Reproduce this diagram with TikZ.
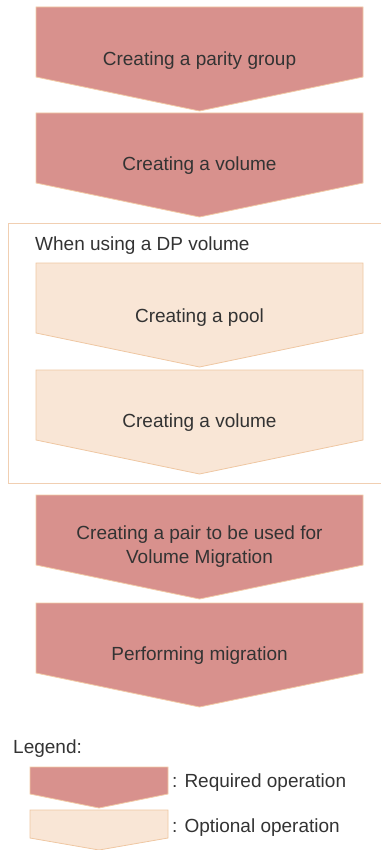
\documentclass[tikz,border=0pt]{standalone}
\usepackage{fontspec}
\setmainfont{Liberation Sans}
\definecolor{reqfill}{HTML}{D8918D}
\definecolor{reqline}{HTML}{F2CBA6}
\definecolor{optfill}{HTML}{F9E6D6}
\definecolor{optline}{HTML}{EFC7A2}
\definecolor{frameline}{HTML}{F1CFB2}
\definecolor{textgray}{HTML}{333333}
\tikzset{
  reqbox/.style={fill=reqfill,draw=reqline,line width=0.8pt},
  optbox/.style={fill=optfill,draw=optline,line width=0.8pt},
  steptext/.style={inner sep=0pt,text=textgray,font=\fontsize{19}{24}\selectfont},
}
\begin{document}
\begin{tikzpicture}[x=1pt,y=-1pt]
\useasboundingbox (0,0) rectangle (380,850);
% frame for the DP volume steps
\draw[frameline,line width=1pt] (382,223) -- (8,223) -- (8,483) -- (382,483);
\foreach \ty in {7,113,495,603} {
  \draw[reqbox] (36,\ty) -- (363,\ty) -- (363,\ty+70) -- (199.5,\ty+104) -- (36,\ty+70) -- cycle;
}
\foreach \ty in {263,370} {
  \draw[optbox] (36,\ty) -- (363,\ty) -- (363,\ty+70) -- (199.5,\ty+104) -- (36,\ty+70) -- cycle;
}
\node[steptext,anchor=base] (parity) at (199.5,66) {Creating a parity group};
\node[steptext,anchor=base] (volume) at (199.5,171) {Creating a volume};
\node[steptext,anchor=base west] (dpcase) at (35,250) {When using a DP volume};
\node[steptext,anchor=base] (pool) at (199.5,322) {Creating a pool};
\node[steptext,anchor=base] (dpvolume) at (199.5,427) {Creating a volume};
\node[steptext,align=center] (pair) at (199.5,547) {Creating a pair to be used for\\Volume Migration};
\node[steptext,anchor=base] (migrate) at (199.5,660) {Performing migration};
% legend
\node[steptext,anchor=base west] (legend) at (13,753) {Legend:};
\draw[reqbox] (30,767) -- (168,767) -- (168,794) -- (99,808) -- (30,794) -- cycle;
\draw[optbox] (30,810) -- (168,810) -- (168,838) -- (99,850) -- (30,838) -- cycle;
\node[steptext,anchor=base west] (required) at (172,787) {: Required operation};
\node[steptext,anchor=base west] (optional) at (172,832) {: Optional operation};
\end{tikzpicture}
\end{document}
